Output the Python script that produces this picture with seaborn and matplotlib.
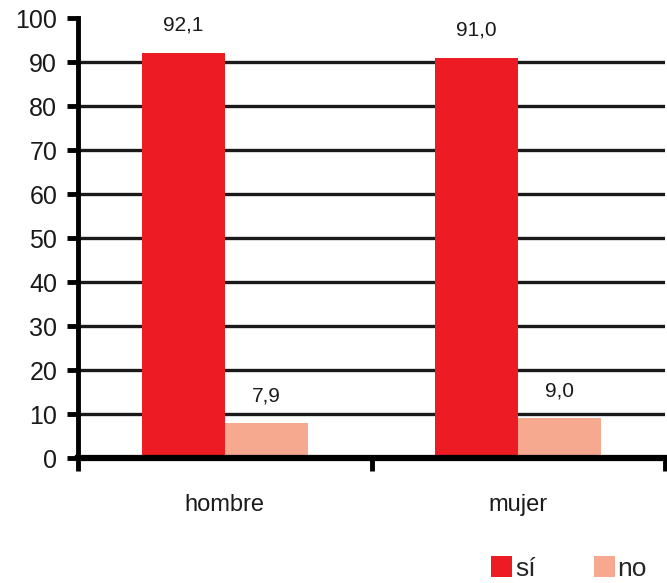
import matplotlib
matplotlib.use("Agg")
import matplotlib.pyplot as plt
import seaborn as sns
import pandas as pd

categories = ["hombre", "mujer"]
series_names = ["sí", "no"]
si_values = [92.1, 91.0]
no_values = [7.9, 9.0]
y_ticks = [0, 10, 20, 30, 40, 50, 60, 70, 80, 90, 100]

colors = {"sí": "#ED1C24", "no": "#F7A98F"}

df = pd.DataFrame({
    "sexo": categories * 2,
    "resp": [series_names[0]] * len(categories) + [series_names[1]] * len(categories),
    "valor": si_values + no_values,
})

sns.set_theme(style="white")
plt.rcParams["font.family"] = ["Liberation Sans", "DejaVu Sans"]

fig = plt.figure(figsize=(6.67, 5.83), dpi=100)
ax = fig.add_axes([78 / 667, 1 - 458 / 583, (665 - 78) / 667, (458 - 18) / 583])

sns.barplot(data=df, x="sexo", y="valor", hue="resp", order=categories,
            hue_order=series_names, palette=colors, width=0.566, gap=0,
            saturation=1, linewidth=0, ax=ax, zorder=3, legend=True)

ax.set_xlim(-0.5, 1.5)
ax.set_ylim(0, 100)
ax.set_yticks(y_ticks)
for y in y_ticks[1:-1]:
    ax.axhline(y, color="#1a1a1a", lw=2.4, zorder=1)

for s in ["top", "right"]:
    ax.spines[s].set_visible(False)
ax.spines["left"].set_linewidth(3.5)
ax.spines["left"].set_color("black")
ax.spines["bottom"].set_linewidth(4.5)
ax.spines["bottom"].set_color("black")
ax.spines["left"].set_zorder(5)
ax.spines["bottom"].set_zorder(5)

ax.tick_params(axis="y", direction="out", length=8, width=3.5, color="black",
               pad=7, labelsize=18, labelcolor="#1a1a1a", left=True)
ax.set_xticks([0, 1])
ax.set_xticklabels(categories)
ax.set_xticks([-0.5, 0.5, 1.5], minor=True)
ax.tick_params(axis="x", which="major", length=0, pad=26, labelsize=17,
               labelcolor="#1a1a1a")
ax.tick_params(axis="x", which="minor", direction="out", length=9, width=3.5,
               color="black", bottom=True)
ax.set_xlabel("")
ax.set_ylabel("")

for cont in ax.containers:
    labels = [f"{b.get_height():.1f}".replace(".", ",") for b in cont]
    ax.bar_label(cont, labels=labels, padding=13, fontsize=15, color="#1a1a1a")

handles, labs = ax.get_legend_handles_labels()
ax.get_legend().remove()
fig.legend(handles, labs, loc="lower left", bbox_to_anchor=(486 / 667, -0.005),
           ncol=2, frameon=False, fontsize=19, handlelength=0.8,
           handleheight=0.9, handletextpad=0.1, columnspacing=2.2,
           borderaxespad=0, borderpad=0.2)

fig.savefig("out.png", dpi=100)
